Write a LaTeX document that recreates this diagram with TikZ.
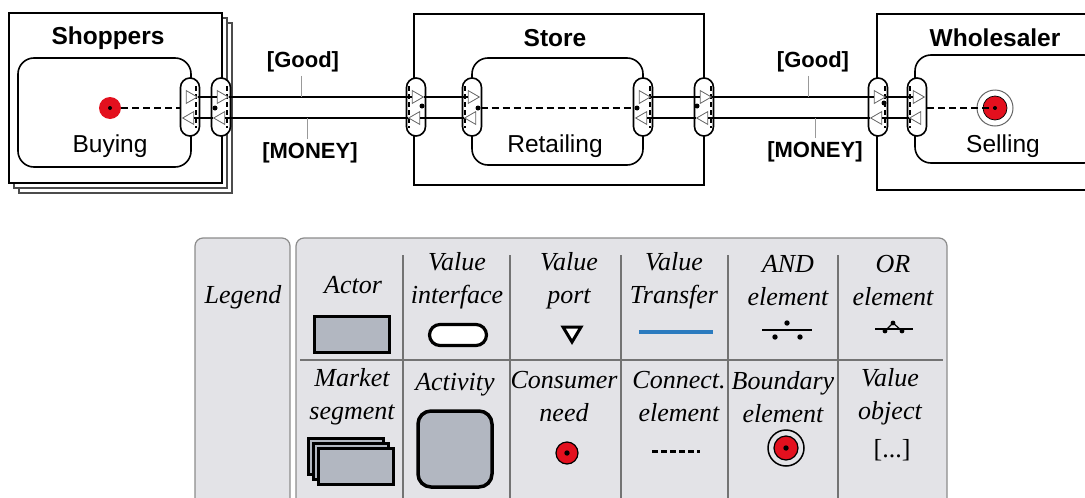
\documentclass[tikz,border=0pt]{standalone}
\usepackage{fontspec}
\setmainfont{Liberation Sans}
\newfontfamily\legfont{Liberation Serif}
\usetikzlibrary{shapes.geometric,calc}
\definecolor{needred}{HTML}{E3101E}
\definecolor{actgray}{HTML}{B2B7C1}
\definecolor{legbg}{HTML}{E3E3E7}
\definecolor{xferblue}{HTML}{2B7BBF}

\begin{document}
\begin{tikzpicture}[x=1pt,y=-1pt,
  actor/.style={draw,line width=2pt,fill=white},
  act/.style={draw,line width=1.6pt,rounded corners=16pt,fill=white},
  vif/.style={draw,line width=1.6pt,fill=white,rounded corners=9.5pt,minimum width=19pt,minimum height=58pt,inner sep=0pt},
  port/.style={isosceles triangle,isosceles triangle apex angle=60,draw=black!60,fill=white,line width=0.8pt,inner sep=0pt,minimum size=11pt},
  portl/.style={port,shape border rotate=180},
  xfer/.style={line width=1.8pt},
  conn/.style={line width=2pt,dash pattern=on 7pt off 4pt},
  cdot/.style={circle,fill=black,inner sep=0pt,minimum size=5pt},
  actname/.style={font=\fontsize{24.5}{28}\selectfont\bfseries},
  lbl/.style={font=\fontsize{24.5}{28}\selectfont},
  obj/.style={font=\fontsize{22}{26}\selectfont\bfseries},
  leader/.style={draw=black!40,line width=1pt},
  leg/.style={font=\fontsize{26}{33}\selectfont\legfont\itshape,align=center},
  legline/.style={draw=black!55,line width=1.2pt}]
 \clip (0,0) rectangle (1085,498);

 % actors and activities
 \draw[actor,draw=black!70,line width=1.4pt] (19,23) rectangle (232,193);
 \draw[actor,draw=black!70,line width=1.4pt] (14,18) rectangle (227,188);
 \draw[actor] (9,13) rectangle (222,183);
 \draw[actor] (414,14) rectangle (704,185);
 \draw[actor] (877,14) rectangle (1100,190);
 \draw[act] (18,58) rectangle (191,167);
 \draw[act] (472,58) rectangle (643,165);
 \draw[act] (915,55) rectangle (1100,163);

 \node[actname] (shoppers) at (108,38) {Shoppers};
 \node[actname] (store) at (555,38) {Store};
 \node[actname] (wholesaler) at (995,38) {Wholesaler};
 \node[lbl] (buying) at (110,146) {Buying};
 \node[lbl] (retailing) at (555,146) {Retailing};
 \node[lbl] (selling) at (1003,146) {Selling};

 % value interfaces with their ports
 \foreach \n/\x/\d in {sIn/190/6,sOut/221/6,tLo/416/-7,tLi/472/-7,tRi/643/7,tRo/704/7,wOut/878/7,wIn/917/-7} {
   \node[vif] (\n) at (\x,107) {};
   \draw[line width=1.3pt,dash pattern=on 5pt off 3pt] ([xshift=\d pt,yshift=-9pt]\n.north) -- ([xshift=\d pt,yshift=9pt]\n.south);
   \node[port] (\n-g) at ([yshift=10pt]\n.center) {};
   \node[portl] (\n-m) at ([yshift=-11pt]\n.center) {};
 }
 \foreach \n/\x/\y in {sOut/215/108,tLo/422/106,tLi/478/108,tRi/637/108,tRo/697/106,wOut/884/103}
   \node[cdot] (\n-d) at (\x,\y) {};

 % value transfers
 \foreach \a/\b in {sIn/sOut,sOut/tLo,tLo/tLi,tRi/tRo,tRo/wOut,wOut/wIn} {
   \draw[xfer] (\a-g.east) -- (\b-g.west);
   \draw[xfer] (\a-m.east) -- (\b-m.west);
 }

 % need, boundary and connection elements
 \node[circle,fill=needred,minimum size=22pt,inner sep=0pt] (need) at (110,108) {};
 \node[cdot,minimum size=4pt] (need-d) at (need) {};
 \node[circle,draw=black!60,line width=1pt,minimum size=36pt,inner sep=0pt] (bnd) at (995,108) {};
 \node[circle,fill=needred,draw=black,line width=0.7pt,minimum size=24pt,inner sep=0pt] (bnd-c) at (bnd) {};
 \draw[conn] (need) -- (need -| sIn.west);
 \draw[conn] (tLi-d) -- (tRi-d);
 \draw[conn] (wIn.east |- bnd) -- (bnd-c.center);
 \node[cdot,minimum size=4pt] (bnd-d) at (bnd) {};

 % value objects
 \node[obj] (good1) at (303,62) {[Good]};
 \node[obj] (money1) at (310,153) {[MONEY]};
 \node[obj] (good2) at (813,62) {[Good]};
 \node[obj] (money2) at (815,152) {[MONEY]};
 \draw[leader] ([xshift=-2pt]good1.south) -- ([xshift=-2pt]good1.south |- sOut-g.center);
 \draw[leader] ([xshift=-3pt]money1.north) -- ([xshift=-3pt]money1.north |- sOut-m.center);
 \draw[leader] ([xshift=-5pt]good2.south) -- ([xshift=-5pt]good2.south |- tRo-g.center);
 \draw[leader] (money2.north) -- (money2.north |- tRo-m.center);

 % legend
 \draw[draw=black!45,fill=legbg,rounded corners=8pt,line width=1.2pt] (195,238) rectangle (290,530);
 \draw[draw=black!45,fill=legbg,rounded corners=8pt,line width=1.2pt] (296,238) rectangle (947,530);
 \node[leg] (legend) at (243,297) {Legend};
 \draw[legline] (300,360) -- (943,360);
 \foreach \x in {403,510,621,728,838} \draw[legline] (\x,255) -- (\x,500);

 \node[leg] (l-actor) at (353,285) {Actor};
 \node[leg] (l-vif) at (457,281) {Value\\interface};
 \node[leg] (l-port) at (569,281) {Value\\port};
 \node[leg] (l-xfer) at (674,281) {Value\\Transfer};
 \node[leg] (l-and) at (788,281) {AND\\element};
 \node[leg] (l-or) at (893,281) {OR\\element};
 \node[leg] (l-ms) at (352,397) {Market\\segment};
 \node[leg] (l-act) at (455,385) {Activity};
 \node[leg] (l-need) at (564,397) {Consumer\\need};
 \node[leg] (l-conn) at (679,397) {Connect.\\element};
 \node[leg] (l-bnd) at (783,397) {Boundary\\element};
 \node[leg] (l-obj) at (890,397) {Value\\object};

 \node[draw,line width=3pt,fill=actgray,minimum width=75pt,minimum height=36pt,inner sep=0pt] (i-actor) at (352,334) {};
 \node[draw,line width=3.2pt,fill=white,rounded corners=10.5pt,minimum width=57pt,minimum height=21pt,inner sep=0pt] (i-vif) at (458,335) {};
 \draw[line width=3pt,fill=white,line join=miter] (563,327) -- (581,327) -- (572,342) -- cycle;
 \draw[xferblue,line width=3.5pt] (639,332) -- (713,332);
 \draw[line width=1.2pt] (762,330) -- (812,330);
 \foreach \x/\y in {787/323,775/337,800/337} \fill (\x,\y) circle (2.7pt);
 \draw[line width=1.2pt] (875,329) -- (913,329);
 \draw[line width=1.2pt] (885,331) -- (893,323) -- (902,331);
 \foreach \x/\y in {893/323,885/331,902/331} \fill (\x,\y) circle (2.4pt);
 \foreach \o in {0,5,10} \draw[line width=3pt,fill=actgray] (308+\o,438+\o) rectangle (383+\o,474+\o);
 \draw[line width=3.5pt,fill=actgray,rounded corners=13pt] (418,411) rectangle (492,487);
 \filldraw[fill=needred,draw=black,line width=1.2pt] (567,453) circle (11pt);
 \fill (567,453) circle (2.7pt);
 \draw[line width=3pt,dash pattern=on 6pt off 3pt] (652,451) -- (700,451);
 \draw[line width=1.5pt] (786,448) circle (18pt);
 \filldraw[fill=needred,draw=black,line width=1.2pt] (786,448) circle (12pt);
 \fill (786,448) circle (2.7pt);
 \node[font=\fontsize{26}{30}\selectfont\legfont] (i-obj) at (892,450) {[...]};
\end{tikzpicture}
\end{document}
